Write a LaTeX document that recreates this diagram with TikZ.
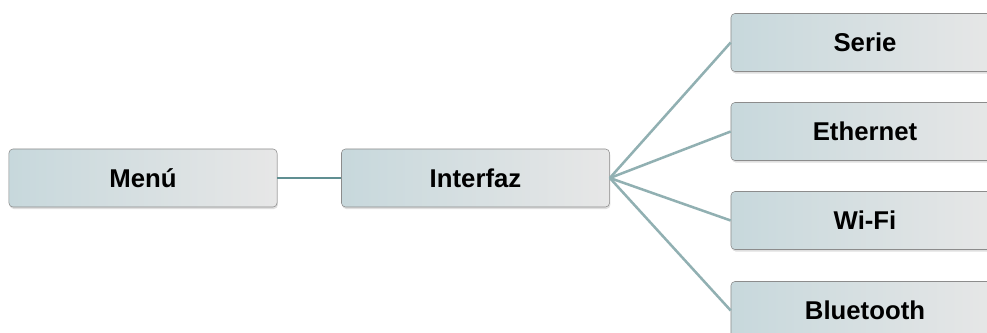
\documentclass[tikz,border=0pt]{standalone}
\usepackage{fontspec}
\setmainfont{Liberation Sans}
\usetikzlibrary{shadows}
\definecolor{boxl}{RGB}{199,216,220}
\definecolor{boxr}{RGB}{231,231,231}
\definecolor{rim}{RGB}{140,140,140}
\definecolor{linkd}{RGB}{96,143,146}
\definecolor{linkl}{RGB}{145,176,178}

\begin{document}
\begin{tikzpicture}[x=0.025cm,y=0.025cm,
          menubox/.style={draw=rim,rounded corners=0.1cm,shading=axis,left color=boxl,right color=boxr,
                          minimum width=6.7cm,minimum height=1.45cm,inner sep=0pt,
                          font=\fontsize{18.3}{22}\selectfont\bfseries,
                          drop shadow={shadow xshift=0.02cm,shadow yshift=-0.05cm,opacity=0.25}},
          lnk/.style={line width=1.8pt}]
        \clip (0,0) rectangle (987,332);
        \node[menubox] (menu) at (143,154) {Menú};
        \node[menubox] (intf) at (475.5,154) {Interfaz};
        \node[menubox] (serie) at (865,289.5) {Serie};
        \node[menubox] (eth) at (865,200.5) {Ethernet};
        \node[menubox] (wifi) at (865,111.5) {Wi-Fi};
        \node[menubox] (bt) at (865,21.5) {Bluetooth};
        \draw[lnk,linkd] (menu) -- (intf);
        \foreach \t in {serie,eth,wifi,bt}
          \draw[lnk,linkl] (intf.east) -- (\t.west);
      \end{tikzpicture}
\end{document}
